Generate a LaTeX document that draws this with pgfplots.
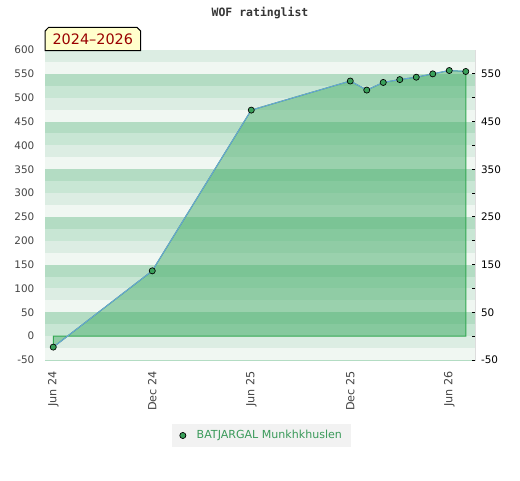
\documentclass[border=0pt]{standalone}
\usepackage{pgfplots}
\pgfplotsset{compat=1.18}
\usepackage{fontspec}
\setmainfont{DejaVu Sans}
\newfontfamily\monob{DejaVu Sans Mono}
\definecolor{sA}{HTML}{DCEDE3}
\definecolor{sB}{HTML}{F0F7F2}
\definecolor{sC}{HTML}{B3DCC3}
\definecolor{sD}{HTML}{C8E6D4}
\definecolor{fillg}{HTML}{45AD69}
\definecolor{edgeg}{HTML}{33A852}
\definecolor{lineb}{HTML}{6AA3D9}
\definecolor{markg}{HTML}{3AA05A}
\definecolor{txtg}{HTML}{3A9A5A}
\definecolor{ticktxt}{HTML}{444444}
\definecolor{framec}{HTML}{DDDDDD}
\definecolor{lblbg}{HTML}{FFFFCC}
\definecolor{lbltxt}{HTML}{990000}
\definecolor{legbg}{HTML}{F2F2F2}
\begin{document}
\begin{tikzpicture}[x=1pt,y=1pt]
\useasboundingbox[fill=white] (0,0) rectangle (390,360);
\begin{axis}[
  at={(33.75pt,90pt)}, anchor=south west,
  scale only axis, width=322.5pt, height=232.5pt,
  xmin=-0.5, xmax=25.56, ymin=-50, ymax=600,
  /pgf/number format/assume math mode=true,
  axis line style={draw=framec, line width=0.75pt},
  xtick={0,6,12,18,24},
  xticklabels={Jun 24,Dec 24,Jun 25,Dec 25,Jun 26},
  xticklabel style={rotate=90, anchor=east, font=\fontsize{8.4}{10}\selectfont, text=ticktxt, xshift=-5pt},
  ytick={-50,0,...,600},
  yticklabel style={font=\fontsize{7.8}{9}\selectfont, text=ticktxt, xshift=-4.5pt},
  major tick length=0pt,
  tick style={draw=none},
  legend style={at={(axis description cs:0.5035,-0.2435)}, anchor=center, fill=legbg, draw=none,
    font=\fontsize{8.3}{10}\selectfont, text=txtg, inner xsep=5pt, inner ysep=3pt},
  legend image code/.code={\path (-3pt,0) (8pt,0); \draw[mark=*, mark size=2.3pt, mark options={fill=markg, draw=black, line width=0.5pt}] plot coordinates {(0pt,0pt)};},
]
\pgfplotsinvokeforeach{-100,0,100,200,300,400,500}{
  \fill[sD] (axis cs:-1,#1) rectangle (axis cs:30,{#1+25});
  \fill[sC] (axis cs:-1,{#1+25}) rectangle (axis cs:30,{#1+50});
  \fill[sB] (axis cs:-1,{#1+50}) rectangle (axis cs:30,{#1+75});
  \fill[sA] (axis cs:-1,{#1+75}) rectangle (axis cs:30,{#1+100});
}
\addplot[forget plot, fill=fillg, fill opacity=0.5, draw=edgeg, line width=0.75pt]
  coordinates {(0,0) (0,-23) (6,137) (12,474) (18,535) (19,516) (20,532) (21,538) (22,543) (23,550) (24,557) (25,555) (25,0)} -- cycle;
\addplot[lineb, line width=0.75pt, mark=*, mark size=2.3pt, mark options={fill=markg, draw=black, line width=0.5pt}]
  coordinates {(0,-23) (6,137) (12,474) (18,535) (19,516) (20,532) (21,538) (22,543) (23,550) (24,557) (25,555)};
\addlegendentry{BATJARGAL Munkhkhuslen}
\end{axis}
\begin{axis}[
  at={(33.75pt,90pt)}, anchor=south west,
  scale only axis, width=322.5pt, height=232.5pt,
  xmin=-0.5, xmax=25.56, ymin=-50, ymax=600,
  axis x line=none, axis y line*=right,
  axis line style={draw=framec, line width=0.75pt},
  ytick={-50,0,...,550},
  yticklabels={-50,,50,,150,,250,,350,,450,,550},
  tick align=inside, major tick length=2.5pt,
  tick style={draw=black, line width=0.75pt},
  yticklabel style={font=\fontsize{7.8}{9}\selectfont, text=black, xshift=1pt},
]
\addplot[draw=none] coordinates {(0,0)};
\end{axis}
\draw[fill=lblbg, line width=0.75pt] (33.75,322) -- (33.75,336.7) -- (36.5,339.5) -- (102.7,339.5) -- (105.5,336.7) -- (105.5,322) -- cycle;
\node[text=lbltxt, font=\fontsize{10.8}{12}\selectfont, inner sep=0pt] at (69.6,330.2) {2024–2026};
\node[font=\monob\bfseries\fontsize{8.6}{10}\selectfont, text=ticktxt!80!black, inner sep=0pt] at (195,350.2) {WOF ratinglist};
\end{tikzpicture}
\end{document}
